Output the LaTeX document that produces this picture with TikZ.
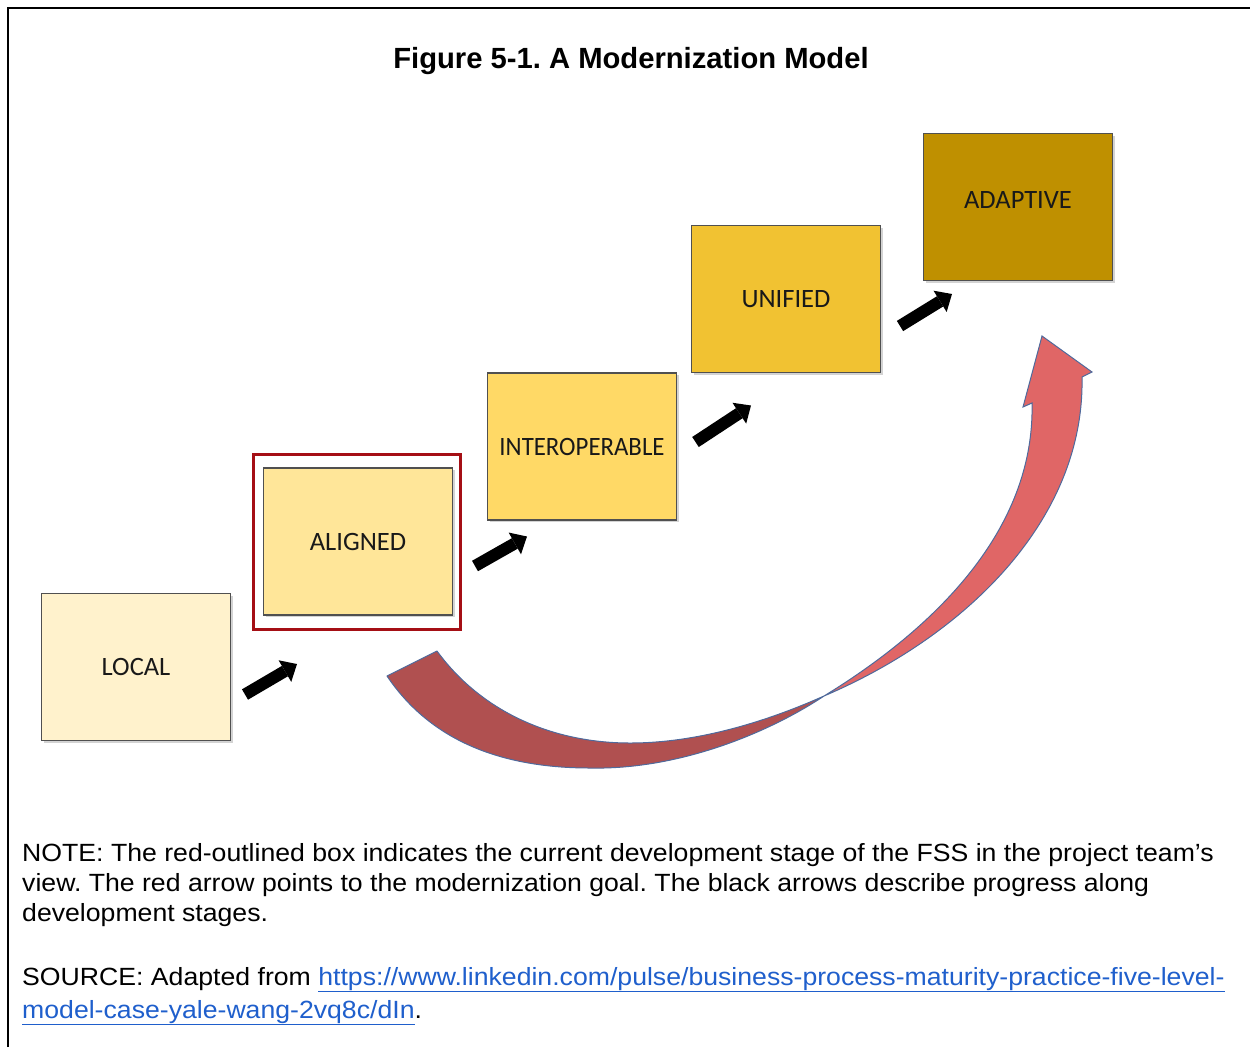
\documentclass[tikz,border=0pt]{standalone}
\usepackage{fontspec}
\setmainfont{Liberation Sans}
\newfontfamily\bodyfont[FakeStretch=1.07]{Liberation Sans}
\newfontfamily\boxfont{Carlito}
\newfontfamily\boxfontnarrow[FakeStretch=0.937]{Carlito}
\usetikzlibrary{arrows.meta,shadows}
\definecolor{cLocal}{HTML}{FFF2CC}
\definecolor{cAligned}{HTML}{FFE699}
\definecolor{cInter}{HTML}{FFD966}
\definecolor{cUnified}{HTML}{F1C232}
\definecolor{cAdaptive}{HTML}{BF9000}
\definecolor{cBorder}{HTML}{505050}
\definecolor{cCurrent}{HTML}{A50F15}
\definecolor{cRedBack}{HTML}{B05050}
\definecolor{cRedFront}{HTML}{E06666}
\definecolor{cRedEdge}{HTML}{4F6A9C}
\definecolor{cLink}{HTML}{1F5FCC}
\frenchspacing
\begin{document}
\begin{tikzpicture}[x=1pt,y=-1pt,
  stage/.style={draw=cBorder, line width=1.2pt, minimum width=189, minimum height=147,
    inner sep=0pt, font=\boxfont\fontsize{26.5}{30}\selectfont, text=black!90,
    drop shadow={shadow xshift=2pt, shadow yshift=-2pt, opacity=0.35}},
  lbl/.style={inner sep=0pt, font=\boxfont\fontsize{26.5}{30}\selectfont, text=black!90},
  currentbox/.style={draw=cCurrent, line width=3pt, minimum width=207, minimum height=175, inner sep=0pt},
  blkarrow/.style={draw=black, line width=12pt, -{Triangle[length=14pt,width=25pt,line width=0pt]}},
  redback/.style={fill=cRedBack, draw=cRedEdge, line width=1pt, line join=round},
  redfront/.style={fill=cRedFront, draw=cRedEdge, line width=1pt, line join=miter},
  txt/.style={anchor=base west, inner sep=0pt, font=\bodyfont\fontsize{24.9}{30}\selectfont},
  frame/.style={draw=black, line width=2pt}
]
\useasboundingbox (0,0) rectangle (1250,1047);

% frame
\coordinate (fbl) at (8,1047);
\coordinate (ftl) at (8,8);
\coordinate (ftr) at (1250,8);
\draw[frame] (fbl) -- (ftl) -- (ftr);

% title
\node[anchor=base, inner sep=0pt, font=\bfseries\fontsize{29.2}{34}\selectfont] (title) at (631,68) {Figure 5-1. A Modernization Model};

% stages
\node[stage, fill=cLocal] (local) at (136,667) {LOCAL};
\node[stage, fill=cAligned] (aligned) at (358,541.5) {ALIGNED};
\node[stage, fill=cInter, font=\boxfontnarrow\fontsize{26.5}{30}\selectfont] (interop) at (582,446.5) {INTEROPERABLE};
\node[stage, fill=cUnified] (unified) at (786,299) {UNIFIED};
\node[stage, fill=cAdaptive] (adaptive) at (1018,207) {};
\node[lbl] (adaptivelbl) at (1018,199.5) {ADAPTIVE};

% current stage outline
\node[currentbox] (current) at (357,542) {};

% black progress arrows
\coordinate (a1s) at (245,694.5);
\coordinate (a1e) at (297,664);
\coordinate (a2s) at (475,566);
\coordinate (a2e) at (527,536.5);
\coordinate (a3s) at (695.5,442);
\coordinate (a3e) at (751,405.5);
\coordinate (a4s) at (900,326);
\coordinate (a4e) at (952,294);
\draw[blkarrow] (a1s) -- (a1e);
\draw[blkarrow] (a2s) -- (a2e);
\draw[blkarrow] (a3s) -- (a3e);
\draw[blkarrow] (a4s) -- (a4e);

% red curved arrow (goal)
\path[redback] (387,676) .. controls (430,740) and (500,768) .. (590,768)
  .. controls (680,770) and (770,732) .. (824,696)
  .. controls (770,720) and (700,743) .. (630,743)
  .. controls (550,743) and (480,710) .. (437,651) -- cycle;
\path[redfront] (824,696) .. controls (965,636) and (1085,520) .. (1082,377)
  -- (1092,372) -- (1042,336) -- (1023,407) -- (1032,403)
  .. controls (1035,530) and (935,628) .. (824,696) -- cycle;

% notes
\node[txt] (note1) at (22,861) {NOTE: The red-outlined box indicates the current development stage of the FSS in the project team’s};
\node[txt] (note2) at (22,891) {view. The red arrow points to the modernization goal. The black arrows describe progress along};
\node[txt] (note3) at (22,921) {development stages.};
\node[txt] (src1) at (22,985) {SOURCE: Adapted from \textcolor{cLink}{\underline{https://www.linkedin.com/pulse/business-process-maturity-practice-five-level-}}};
\node[txt] (src2) at (22,1018) {\textcolor{cLink}{\underline{model-case-yale-wang-2vq8c/dIn}}.};
\end{tikzpicture}
\end{document}
